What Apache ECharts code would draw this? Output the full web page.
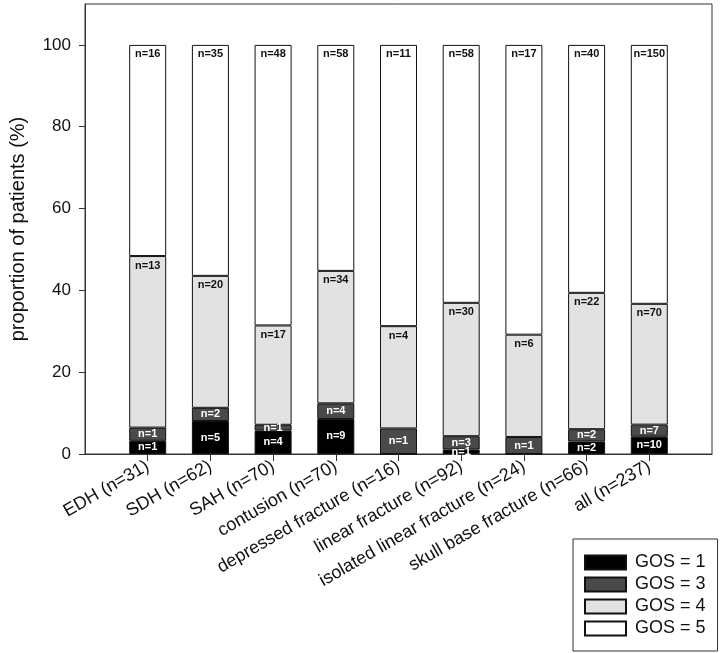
<!DOCTYPE html>
<html>
<head>
<meta charset="utf-8">
<script src="https://cdn.jsdelivr.net/npm/echarts@6/dist/echarts.min.js"></script>
<style>
  html, body { margin: 0; padding: 0; background: #fff; }
  #main { width: 720px; height: 653px; }
</style>
</head>
<body>
<div id="main"></div>
<script>
// categories and patient counts per GOS group (read from the n= labels)
var categories = [
  "EDH (n=31)", "SDH (n=62)", "SAH (n=70)", "contusion (n=70)",
  "depressed fracture (n=16)", "linear fracture (n=92)",
  "isolated linear fracture (n=24)", "skull base fracture (n=66)", "all (n=237)"
];
var gos1 = [1, 5, 4, 9, 0, 1, 0, 2, 10];
var gos3 = [1, 2, 1, 4, 1, 3, 1, 2, 7];
var gos4 = [13, 20, 17, 34, 4, 30, 6, 22, 70];
var gos5 = [16, 35, 48, 58, 11, 58, 17, 40, 150];
var yTicks = [0, 20, 40, 60, 80, 100];

var font = "Liberation Sans, Arial, sans-serif";

// one empty slot each side so the bars sit one step in from the frame
var xData = [""].concat(categories, [""]);

function totals(i) {
  return gos1[i] + gos3[i] + gos4[i] + gos5[i];
}
function toPct(arr) {
  var out = [null];
  arr.forEach(function (v, i) { out.push(v / totals(i) * 100); });
  out.push(null);
  return out;
}
function countLabel(arr) {
  return function (p) {
    var n = arr[p.dataIndex - 1];
    return n ? "n=" + n : "";
  };
}

function makeSeries(name, arr, color, labelColor, pos) {
  return {
    name: name,
    type: "bar",
    stack: "gos",
    barWidth: 37,
    data: toPct(arr),
    itemStyle: { color: color, borderColor: "#111", borderWidth: 1 },
    label: {
      show: true,
      position: pos,
      distance: 4,
      formatter: countLabel(arr),
      color: labelColor,
      fontSize: 11,
      fontWeight: "bold",
      fontFamily: font
    },
    emphasis: { disabled: true }
  };
}

var chart = echarts.init(document.getElementById("main"));
chart.setOption({
  animation: false,
  grid: {
    left: 85, right: 8, top: 4, bottom: 199,
    show: true, borderColor: "#333", borderWidth: 1
  },
  legend: {
    orient: "vertical",
    left: 573, top: 539,
    height: 100,
    itemWidth: 41, itemHeight: 14, itemGap: 1,
    padding: [13, 12, 12, 11],
    borderColor: "#333", borderWidth: 1,
    icon: "rect",
    textStyle: { fontSize: 18, lineHeight: 21, color: "#111", fontFamily: font, padding: [0, 0, 0, 4] },
    data: ["GOS = 1", "GOS = 3", "GOS = 4", "GOS = 5"]
  },
  xAxis: {
    type: "category",
    data: xData,
    boundaryGap: false,
    axisLine: { lineStyle: { color: "#333", width: 1 } },
    axisTick: {
      length: 7,
      lineStyle: { color: "#333" },
      interval: function (i) { return i > 0 && i < xData.length - 1; }
    },
    axisLabel: {
      interval: 0, rotate: 30, margin: 11,
      fontSize: 18, color: "#111", fontFamily: font
    },
    splitLine: { show: false }
  },
  yAxis: {
    type: "value",
    min: 0, max: 110,
    name: "proportion of patients (%)",
    nameLocation: "middle",
    nameGap: 57,
    nameTextStyle: { fontSize: 20, color: "#111", fontFamily: font },
    axisLine: { show: true, lineStyle: { color: "#333", width: 1 } },
    axisTick: { show: true, length: 6, customValues: yTicks, lineStyle: { color: "#333" } },
    axisLabel: { customValues: yTicks, margin: 14, fontSize: 17, color: "#111", fontFamily: font },
    splitLine: { show: false }
  },
  series: [
    makeSeries("GOS = 1", gos1, "#000000", "#fff", "inside"),
    makeSeries("GOS = 3", gos3, "#4a4a4a", "#fff", "inside"),
    makeSeries("GOS = 4", gos4, "#e2e2e2", "#111", "insideTop"),
    makeSeries("GOS = 5", gos5, "#ffffff", "#111", "insideTop")
  ]
});
</script>
</body>
</html>
